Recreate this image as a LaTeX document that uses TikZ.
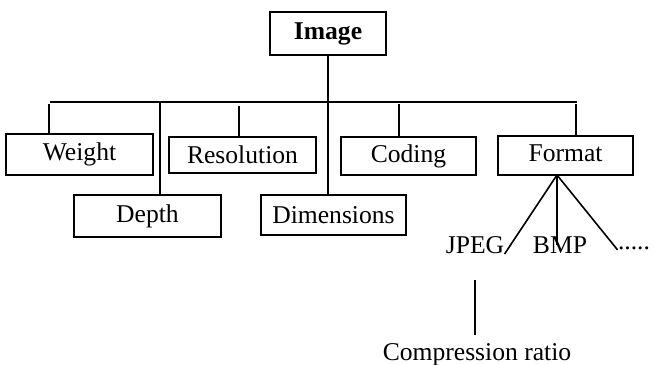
\documentclass[tikz,border=0pt]{standalone}
\usepackage{fontspec}
\setmainfont{Liberation Serif}

\begin{document}
\begin{tikzpicture}[x=0.5pt,y=-0.5pt,
	box/.style={rectangle,draw,line width=0.6pt,inner sep=0pt,font=\fontsize{12.8}{15}\selectfont},
	tag/.style={inner sep=0pt,font=\fontsize{12.8}{15}\selectfont},
	link/.style={line width=0.8pt}]

		\useasboundingbox (0,0) rectangle (655,365);

		\node[box,minimum width=58pt,minimum height=21.5pt,font=\fontsize{12.8}{15}\selectfont\bfseries] (image) at (328,33.5) {Image};
		\node[box,minimum width=73.5pt,minimum height=20.5pt] (weight) at (79.5,154.5) {Weight};
		\node[box,minimum width=73.5pt,minimum height=21pt] (depth) at (147.5,216) {Depth};
		\node[box,minimum width=73.5pt,minimum height=18pt] (resol) at (242.5,155) {Resolution};
		\node[box,minimum width=72.5pt,minimum height=20pt] (dims) at (333.5,215) {Dimensions};
		\node[box,minimum width=67.5pt,minimum height=19pt] (coding) at (408.5,156) {Coding};
		\node[box,minimum width=67.5pt,minimum height=19.5pt,text depth=2pt] (format) at (565.5,155.5) {Format};

		\node[tag] (jpeg) at (475,245) {JPEG};
		\node[tag] (bmp) at (560,245) {BMP};
		\node[tag] (dots) at (634,248) {.....};
		\node[tag] (ratio) at (477,355) {Compression ratio};

		\coordinate (barL) at (50,102);
		\coordinate (barR) at (577,102);
		\coordinate (wTop) at (49,104);
		\coordinate (dTop) at (160,102);
		\coordinate (rTop) at (239,106);
		\coordinate (cTop) at (399,104);
		\coordinate (fTop) at (576,104);
		\coordinate (fan) at (557,175);

		\draw[link] (barL) -- (barR);
		\draw[link] (image.south) -- (image.south |- dims.north);
		\path[link] (wTop) edge (wTop |- weight.north);
		\path[link] (dTop) edge (dTop |- depth.north);
		\path[link] (rTop) edge (rTop |- resol.north);
		\path[link] (cTop) edge (cTop |- coding.north);
		\path[link] (fTop) edge (fTop |- format.north);

		\path[link] (fan) edge (jpeg.south east);
		\path[link] (fan) edge (fan |- bmp.center);
		\path[link] (fan) edge (dots.south west);
		\path[link,shorten <=13pt,shorten >=4pt] (jpeg.south) edge (jpeg.south |- ratio.north);

	\end{tikzpicture}
\end{document}
